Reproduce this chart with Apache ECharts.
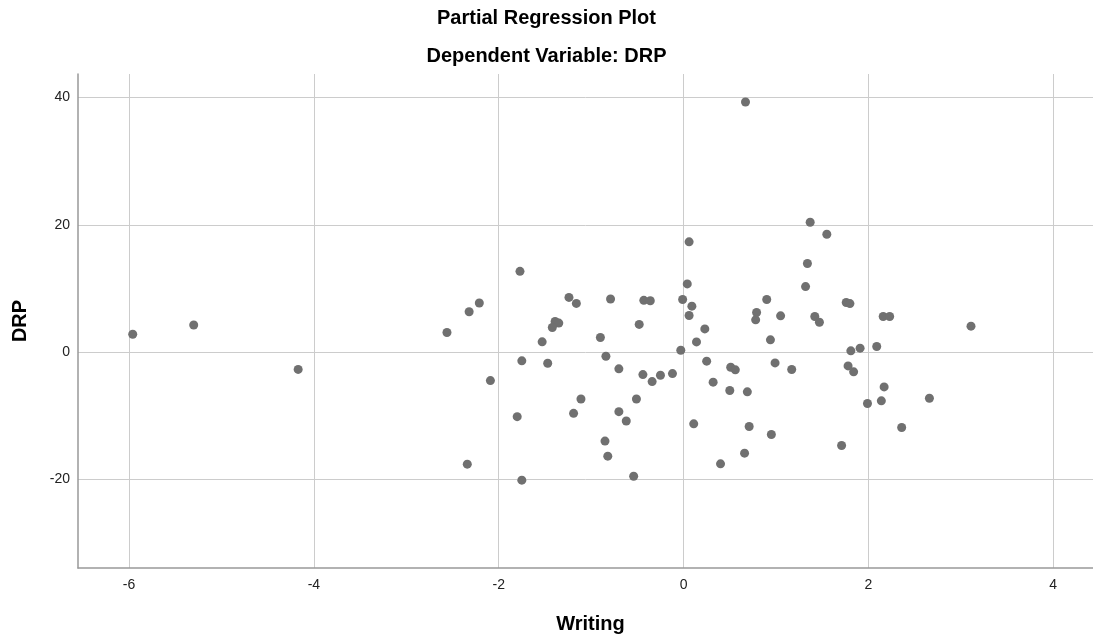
<!DOCTYPE html>
<html>
<head>
<meta charset="utf-8">
<script src="https://cdn.jsdelivr.net/npm/echarts@6/dist/echarts.min.js"></script>
<style>
html,body{margin:0;padding:0;background:#fff;}
#chart{width:1093px;height:636px;}
</style>
</head>
<body>
<div id="chart"></div>
<script>
const titleText = 'Partial Regression Plot';
const subtitleText = 'Dependent Variable: DRP';
const xAxisName = 'Writing';
const yAxisName = 'DRP';
const xTicks = [-6, -4, -2, 0, 2, 4];
const yTicks = [-20, 0, 20, 40];

const writingValues = [
  -5.96, -5.30, -4.17, -2.56,
  -1.77, -2.21, -2.32, -1.24, -1.16, -0.79, -0.43, -0.36, -1.39, -1.35, -1.42, -1.53,
  -0.90, -0.48, -1.75, -1.47, -2.09, -0.84, -0.70, -0.44, -0.34, -0.25, -0.12, -1.11,
  -1.19, -1.80, -0.70, -0.62, -0.51, -0.85, -0.82, -2.34, -1.75, -0.54,
  1.37, 1.55, 0.06, 1.34, 1.32, 0.04, -0.01, 0.09, 0.06, 0.23, 0.14, -0.03,
  0.90, 0.79, 0.78, 1.05, 0.94, 1.76, 1.80, 1.42, 1.47, 2.16, 2.23, 2.09, 1.81, 1.91,
  0.25, 0.51, 0.56, 0.99, 1.17, 1.78, 1.84, 0.32, 0.50, 0.69, 2.17, 1.99, 2.14,
  0.11, 0.71, 0.95, 2.36, 1.71, 0.66, 0.40,
  0.67, 3.11, 2.66
];
const drpValues = [
  2.81, 4.27, -2.70, 3.10,
  12.70, 7.72, 6.35, 8.61, 7.66, 8.35, 8.14, 8.08, 4.83, 4.57, 3.88, 1.63,
  2.31, 4.36, -1.36, -1.73, -4.46, -0.63, -2.62, -3.52, -4.62, -3.62, -3.36, -7.35,
  -9.61, -10.13, -9.34, -10.81, -7.35, -13.96, -16.33, -17.59, -20.10, -19.48,
  20.42, 18.53, 17.33, 13.93, 10.31, 10.73, 8.27, 7.23, 5.76, 3.66, 1.62, 0.31,
  8.27, 6.23, 5.08, 5.71, 1.94, 7.80, 7.64, 5.60, 4.71, 5.60, 5.60, 0.89, 0.21, 0.63,
  -1.41, -2.36, -2.77, -1.68, -2.72, -2.15, -3.09, -4.71, -6.02, -6.23, -5.45, -8.06, -7.64,
  -11.26, -11.68, -12.93, -11.83, -14.66, -15.86, -17.54,
  39.30, 4.09, -7.24
];

const points = writingValues.map((x, i) => [x, drpValues[i]]);

const FONT = '"Liberation Sans", Arial, sans-serif';
const chart = echarts.init(document.getElementById('chart'), null, {renderer: 'canvas'});
chart.setOption({
  animation: false,
  backgroundColor: '#ffffff',
  title: [
    {text: titleText, left: 'center', top: 3,
     textStyle: {fontFamily: FONT, fontSize: 20, fontWeight: 'bold', color: '#000'}},
    {text: subtitleText, left: 'center', top: 41,
     textStyle: {fontFamily: FONT, fontSize: 20, fontWeight: 'bold', color: '#000'}}
  ],
  grid: {left: 78, right: 0, top: 74, bottom: 68, containLabel: false, outerBoundsMode: 'none'},
  xAxis: {
    type: 'value',
    min: -6.552, max: 4.43,
    name: xAxisName, nameLocation: 'middle', nameGap: 46,
    nameTextStyle: {fontFamily: FONT, fontSize: 20, fontWeight: 'bold', color: '#000', padding: [0, 0, 0, 10]},
    axisLine: {show: true, onZero: false, lineStyle: {color: '#999999', width: 1.5}},
    axisTick: {show: false, customValues: xTicks},
    axisLabel: {fontFamily: FONT, fontSize: 14, color: '#222', margin: 10, customValues: xTicks},
    splitLine: {show: true, lineStyle: {color: '#cccccc', width: 1}}
  },
  yAxis: {
    type: 'value',
    min: -33.9, max: 43.7,
    name: yAxisName, nameLocation: 'middle', nameGap: 48, nameRotate: 90,
    nameTextStyle: {fontFamily: FONT, fontSize: 20, fontWeight: 'bold', color: '#000'},
    axisLine: {show: true, onZero: false, lineStyle: {color: '#999999', width: 1.5}},
    axisTick: {show: false, customValues: yTicks},
    axisLabel: {fontFamily: FONT, fontSize: 14, color: '#222', margin: 8, padding: [6, 0, 0, 0], customValues: yTicks},
    splitLine: {show: true, lineStyle: {color: '#cccccc', width: 1}}
  },
  series: [{
    type: 'scatter',
    data: points,
    symbol: 'circle',
    symbolSize: 9,
    itemStyle: {color: '#707070', opacity: 1}
  }]
});
</script>
</body>
</html>
